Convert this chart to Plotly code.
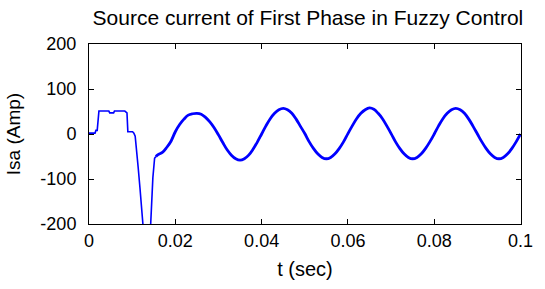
import plotly.graph_objects as go

# Transient part (step-like, drawn as straight segments)
t_transient = [0, 0.0014, 0.0016, 0.0019, 0.0023, 0.0046, 0.0048, 0.0057, 0.0059,
               0.0083, 0.0088, 0.0090, 0.0101, 0.0104, 0.0107, 0.0108, 0.0110,
               0.0114, 0.0118, 0.0122, 0.0125, 0.0130, 0.0140, 0.0144, 0.0148,
               0.0152, 0.0155]
i_transient = [2, 2, 8, 8, 51, 51, 47, 47, 51,
               51, 47, 5, 5, 2, -5, -13, -39,
               -75, -119, -156, -200, -260, -260, -156, -97,
               -54, -50]

# Steady-state part (smooth sinusoid-like waveform)
t_steady = [0.0155, 0.016, 0.017, 0.018, 0.019, 0.020, 0.021, 0.022, 0.023, 0.024,
            0.025, 0.026, 0.027, 0.028, 0.029, 0.030, 0.031, 0.032, 0.033, 0.034,
            0.035, 0.036, 0.037, 0.038, 0.039, 0.040, 0.041, 0.042, 0.043, 0.044,
            0.045, 0.046, 0.047, 0.048, 0.049, 0.050, 0.051, 0.052, 0.053, 0.054,
            0.055, 0.056, 0.057, 0.058, 0.059, 0.060, 0.061, 0.062, 0.063, 0.064,
            0.065, 0.066, 0.067, 0.068, 0.069, 0.070, 0.071, 0.072, 0.073, 0.074,
            0.075, 0.076, 0.077, 0.078, 0.079, 0.080, 0.081, 0.082, 0.083, 0.084,
            0.085, 0.086, 0.087, 0.088, 0.089, 0.090, 0.091, 0.092, 0.093, 0.094,
            0.095, 0.096, 0.097, 0.098, 0.099, 0.100]
i_steady = [-50, -46, -41, -30, -16, 5, 21, 33, 42, 45,
            46, 44, 37, 27, 14, -2, -19, -35, -47, -55,
            -58, -55, -47, -34, -18, 0, 18, 34, 46, 54,
            57, 54, 46, 33, 17, 1, -17, -32, -44, -52,
            -55, -52, -44, -32, -17, 1, 18, 34, 46, 54,
            58, 55, 46, 34, 18, 1, -17, -32, -44, -52,
            -55, -52, -44, -32, -17, 0, 18, 34, 46, 54,
            57, 54, 46, 33, 17, 0, -17, -32, -44, -52,
            -55, -52, -44, -32, -17, 0]

x_ticks = [0, 0.02, 0.04, 0.06, 0.08, 0.1]
x_tick_labels = ["0", "0.02", "0.04", "0.06", "0.08", "0.1"]
y_ticks = [-200, -100, 0, 100, 200]
y_tick_labels = ["-200", "-100", "0", "100", "200"]

FONT = "Liberation Sans, Arial, sans-serif"

fig = go.Figure()
fig.add_trace(go.Scatter(x=t_transient, y=i_transient, mode="lines",
                         line=dict(color="#0000FF", width=1.6), showlegend=False))
fig.add_trace(go.Scatter(x=t_steady, y=i_steady, mode="lines",
                         line=dict(color="#0000FF", width=2.8, shape="spline"),
                         showlegend=False))

fig.update_layout(
    width=545, height=289,
    margin=dict(l=89, r=12, t=44, b=62),
    paper_bgcolor="white", plot_bgcolor="white",
    font=dict(family=FONT, color="black", size=18),
    title=dict(text="Source current of First Phase in Fuzzy Control",
               font=dict(size=21, family=FONT, color="black"),
               x=0.565, xanchor="center", y=0.94, yanchor="middle"),
)
fig.update_xaxes(range=[0, 0.1001], tickvals=x_ticks, ticktext=x_tick_labels,
                 ticks="inside", ticklen=5, tickcolor="black",
                 showline=True, linecolor="black", linewidth=1, mirror="ticks",
                 showgrid=False, zeroline=False,
                 tickfont=dict(size=18),
                 title=dict(text="t (sec)", font=dict(size=20), standoff=12))
fig.update_yaxes(range=[-200, 200], tickvals=y_ticks, ticktext=y_tick_labels,
                 ticks="inside", ticklen=5, tickcolor="black",
                 showline=True, linecolor="black", linewidth=1, mirror="ticks",
                 showgrid=False, zeroline=False,
                 tickfont=dict(size=18), ticklabelstandoff=8,
                 title=dict(text="Isa (Amp)", font=dict(size=19), standoff=14))

fig.write_html("out.html", config={"displayModeBar": False},
               post_script="document.body.style.margin='0';")
